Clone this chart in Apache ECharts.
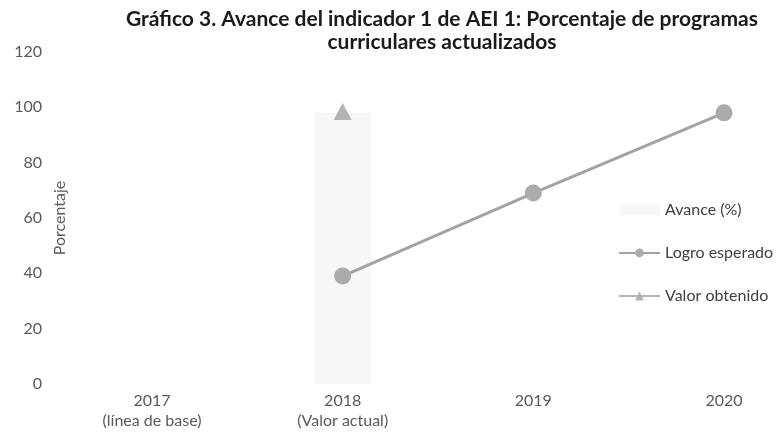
<!DOCTYPE html>
<html>
<head>
<meta charset="utf-8">
<script src="https://cdn.jsdelivr.net/npm/echarts@6/dist/echarts.min.js"></script>
<style>html,body{margin:0;padding:0;background:#fff;}#c{width:784px;height:446px;}</style>
</head>
<body>
<div id="c"></div>
<script>
var categories = ['2017\n(línea de base)', '2018\n(Valor actual)', '2019', '2020'];
var avance = [null, 98, null, null];
var logroEsperado = [null, 39, 69, 98];
var valorObtenido = [null, 98.5, null, null];
var yTicks = {min: 0, max: 120, interval: 20};

var chart = echarts.init(document.getElementById('c'));
var font = 'Lato, "Open Sans", sans-serif';
chart.setOption({
  backgroundColor: '#fff',
  animation: false,
  title: {
    text: 'Gráfico 3. Avance del indicador 1 de AEI 1: Porcentaje de programas\ncurriculares actualizados',
    left: 437, top: 3, textAlign: 'center',
    textStyle: {fontFamily: font, fontWeight: 'bold', fontSize: 21, color: '#1a1a1a', lineHeight: 23}
  },
  legend: {
    orient: 'vertical', left: 613, top: 197, itemWidth: 41, itemHeight: 11, itemGap: 27,
    textStyle: {fontFamily: font, fontSize: 16, color: '#404040'},
    data: ['Avance (%)', 'Logro esperado', 'Valor obtenido']
  },
  grid: {left: 152, right: 60, top: 52, bottom: 62},
  xAxis: {
    type: 'category', data: categories, boundaryGap: false,
    axisLine: {show: false}, axisTick: {show: false}, splitLine: {show: false},
    axisLabel: {fontFamily: font, fontSize: 16, color: '#595959', margin: 7, lineHeight: 20, interval: 0}
  },
  yAxis: {
    type: 'value', min: yTicks.min, max: yTicks.max, interval: yTicks.interval,
    name: 'Porcentaje', nameLocation: 'middle', nameGap: 84, nameRotate: 90, nameMoveOverlap: false,
    nameTextStyle: {fontFamily: font, fontSize: 16, color: '#595959'},
    axisLine: {show: false}, axisTick: {show: false}, splitLine: {show: false},
    axisLabel: {fontFamily: font, fontSize: 16, color: '#595959', margin: 110}
  },
  series: [
    {name: 'Avance (%)', type: 'bar', data: avance, barWidth: 57,
     itemStyle: {color: '#f7f7f7'}},
    {name: 'Logro esperado', type: 'line', data: logroEsperado, symbol: 'circle', symbolSize: 17,
     lineStyle: {color: '#a3a3a3', width: 3}, itemStyle: {color: '#ababab'}},
    {name: 'Valor obtenido', type: 'line', data: valorObtenido, symbol: 'triangle', symbolSize: [18, 17],
     lineStyle: {color: '#b3b3b3', width: 3}, itemStyle: {color: '#b3b3b3'}}
  ]
});
</script>
</body>
</html>
